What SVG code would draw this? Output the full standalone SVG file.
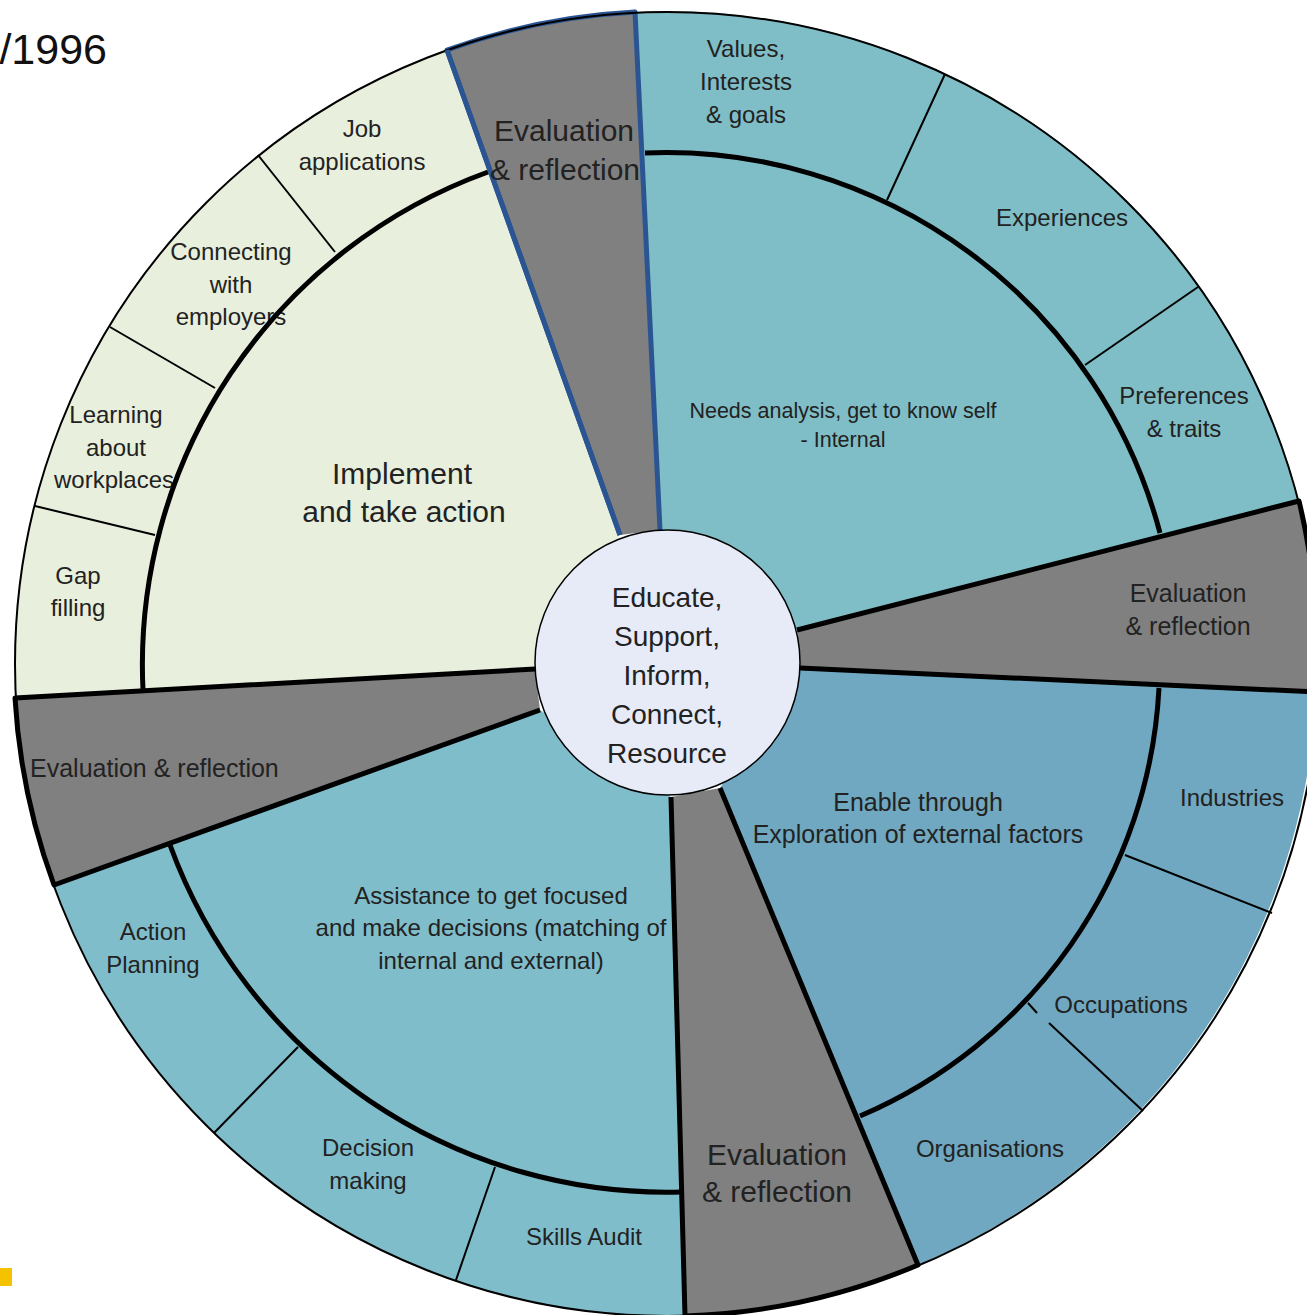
<svg xmlns="http://www.w3.org/2000/svg" width="1307" height="1315" viewBox="0 0 1307 1315">
<style>
text{font-family:"Liberation Sans",Arial,sans-serif;fill:#222;text-anchor:middle}
.thin{stroke:#000;stroke-width:2;fill:none}
.thick{stroke:#000;stroke-width:5;fill:none;stroke-linejoin:round}
.blue{stroke:#2B5592;stroke-width:5;fill:none;stroke-linejoin:round}
.gray{fill:#808080}
.s24{font-size:24px}.s25{font-size:25px}.s22{font-size:21.5px}.s30{font-size:30px}.s31{font-size:30px}.s28{font-size:28px}
</style>
<rect x="0" y="0" width="1307" height="1315" fill="#fff"/>
<text x="107" y="64" style="font-size:43px;text-anchor:end;fill:#111">/1996</text>
<rect x="0" y="1268" width="12" height="18" fill="#F5C200"/>

<g id="implement">
<path d="M535 669 L15 698 A652 652 0 0 1 447 50 L620 535 Z" fill="#E8EFDD"/>
<text class="s30" x="402" y="484">Implement</text>
<text class="s30" x="404" y="522">and take action</text>
<text class="s24" x="362" y="137">Job</text>
<text class="s24" x="362" y="170">applications</text>
<text class="s24" x="231" y="260">Connecting</text>
<text class="s24" x="231" y="293">with</text>
<text class="s24" x="231" y="325">employers</text>
<text class="s24" x="116" y="423">Learning</text>
<text class="s24" x="116" y="456">about</text>
<text class="s24" x="114" y="488">workplaces</text>
<text class="s24" x="78" y="584">Gap</text>
<text class="s24" x="78" y="616">filling</text>
</g>

<g id="needs">
<path d="M660 530 L635 12 A652 652 0 0 1 1299 501 L797 630 Z" fill="#7FBEC6"/>
<text class="s22" x="843" y="418">Needs analysis, get to know self</text>
<text class="s22" x="843" y="447">- Internal</text>
<text class="s24" x="746" y="57">Values,</text>
<text class="s24" x="746" y="90">Interests</text>
<text class="s24" x="746" y="123">&amp; goals</text>
<text class="s24" x="1062" y="226">Experiences</text>
<text class="s24" x="1184" y="404">Preferences</text>
<text class="s24" x="1184" y="437">&amp; traits</text>
</g>

<g id="enable">
<path d="M800 668 L1316 692 A652 652 0 0 1 918 1265 L720 788 Z" fill="#6FA8C0"/>
<text class="s25" x="918" y="811">Enable through</text>
<text class="s25" x="918" y="843">Exploration of external factors</text>
<text class="s24" x="1232" y="806">Industries</text>
<text class="s24" x="1121" y="1013">Occupations</text>
<text class="s24" x="990" y="1157">Organisations</text>
</g>

<g id="assistance">
<path d="M671 797 L685 1316 A652 652 0 0 1 54 885 L540 710 Z" fill="#80BDCB"/>
<text class="s24" x="491" y="904">Assistance to get focused</text>
<text class="s24" x="491" y="936">and make decisions (matching of</text>
<text class="s24" x="491" y="969">internal and external)</text>
<text class="s24" x="153" y="940">Action</text>
<text class="s24" x="153" y="973">Planning</text>
<text class="s24" x="368" y="1156">Decision</text>
<text class="s24" x="368" y="1189">making</text>
<text class="s24" x="584" y="1245">Skills Audit</text>
</g>

<g id="eval-top">
<path d="M620 535 L447 50 A652 652 0 0 1 635 12 L660 530 Z" class="gray"/>
<path d="M620 535 L447 50 A652 652 0 0 1 635 12 L660 530" class="blue"/>
</g>
<g id="eval-right">
<path d="M797 630 L1299 501 A652 652 0 0 1 1316 692 L800 668 Z" class="gray"/>
</g>
<g id="eval-bottom">
<path d="M720 788 L918 1265 A652 652 0 0 1 685 1316 L671 797 Z" class="gray"/>
</g>
<g id="eval-left">
<path d="M540 710 L54 885 A652 652 0 0 1 15 698 L535 669 Z" class="gray"/>
</g>

<g id="connectors">
<circle cx="667" cy="664" r="652" class="thin"/>
<path class="thick" d="M143 690 A524 524 0 0 1 488 172"/>
<path class="thick" d="M645 153 A511 511 0 0 1 1160 533"/>
<path class="thick" d="M1159 688 A493 493 0 0 1 860 1116"/>
<path class="thick" d="M681 1192 A529 529 0 0 1 170 845"/>
<path class="thick" d="M797 630 L1299 501 A652 652 0 0 1 1316 692 L800 668"/>
<path class="thick" d="M720 788 L918 1265 A652 652 0 0 1 685 1316 L671 797"/>
<path class="thick" d="M540 710 L54 885 A652 652 0 0 1 15 698 L535 669"/>
<path class="blue" d="M620 535 L447 50"/>
<line class="thin" x1="258" y1="155" x2="335" y2="252"/>
<line class="thin" x1="110" y1="327" x2="215" y2="388"/>
<line class="thin" x1="35" y1="506" x2="155" y2="535"/>
<line class="thin" x1="887" y1="200" x2="945" y2="74"/>
<line class="thin" x1="1085" y1="365" x2="1198" y2="287"/>
<line class="thin" x1="1125" y1="855" x2="1272" y2="913"/>
<line class="thin" x1="1028" y1="1003" x2="1037" y2="1013"/>
<line class="thin" x1="1049" y1="1023" x2="1143" y2="1111"/>
<line class="thin" x1="298" y1="1047" x2="214" y2="1133"/>
<line class="thin" x1="495" y1="1167" x2="456" y2="1280"/>
</g>

<g id="eval-labels">
<text class="s31" x="564" y="141">Evaluation</text>
<text class="s31" x="565" y="180">&amp; reflection</text>
<text class="s25" x="1188" y="602">Evaluation</text>
<text class="s25" x="1188" y="635">&amp; reflection</text>
<text class="s31" x="777" y="1165">Evaluation</text>
<text class="s31" x="777" y="1202">&amp; reflection</text>
<text class="s25" x="30" y="777" style="text-anchor:start">Evaluation &amp; reflection</text>
</g>

<g id="center">
<circle cx="667.5" cy="662.5" r="132.5" fill="#E6EBF7" stroke="#000" stroke-width="1.5"/>
<text class="s28" x="667" y="607">Educate,</text>
<text class="s28" x="667" y="646">Support,</text>
<text class="s28" x="667" y="685">Inform,</text>
<text class="s28" x="667" y="724">Connect,</text>
<text class="s28" x="667" y="763">Resource</text>
</g>
</svg>
